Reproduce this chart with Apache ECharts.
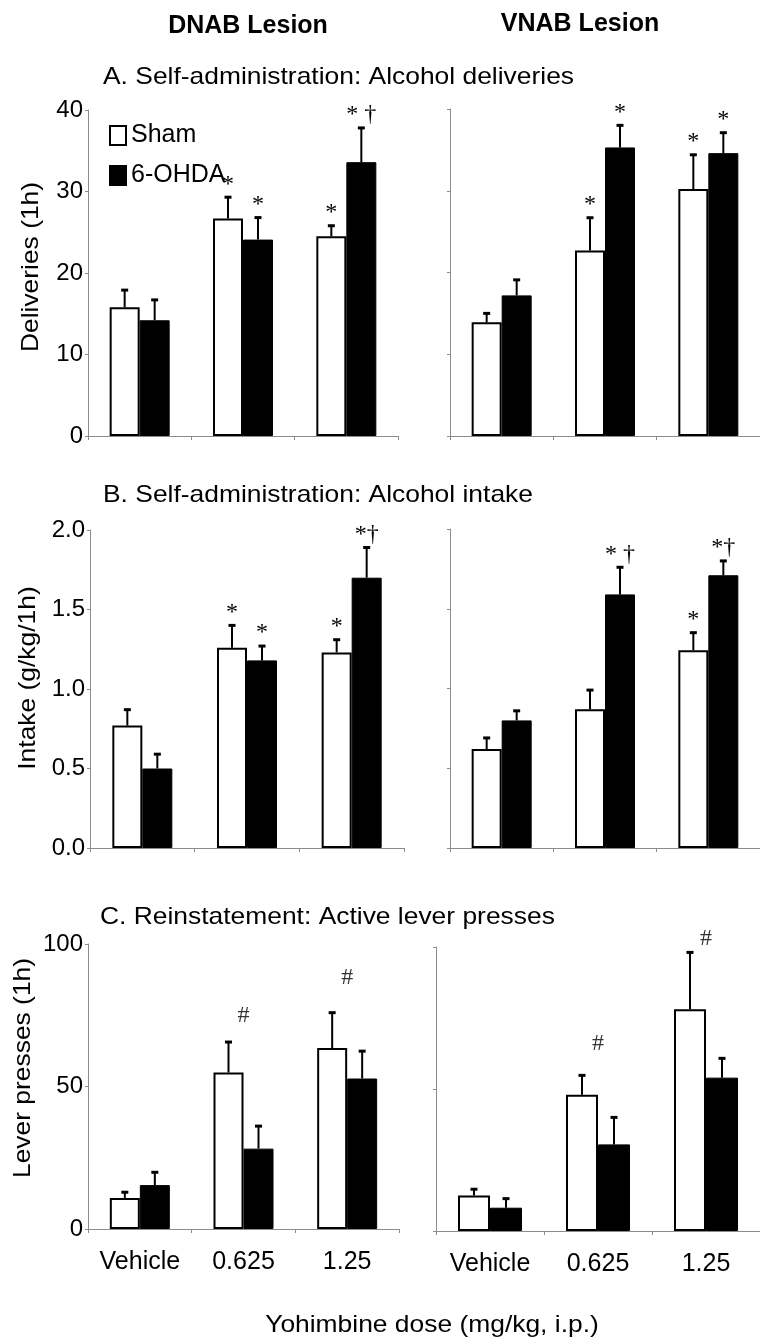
<!DOCTYPE html>
<html>
<head>
<meta charset="utf-8">
<script src="https://cdn.jsdelivr.net/npm/echarts@6/dist/echarts.min.js"></script>
<style>
  html, body { margin: 0; padding: 0; background: #fff; }
  #chart { width: 760px; height: 1338px; }
</style>
</head>
<body>
<div id="chart"></div>
<script>
// dose groups
const doses = ['Vehicle', '0.625', '1.25']

// A. alcohol deliveries (1h), mean and SEM
const delivDnabSham = [15.8, 26.7, 24.5]
const delivDnabShamSem = [2.1, 2.6, 1.3]
const delivDnabOhda = [14.2, 24.1, 33.6]
const delivDnabOhdaSem = [2.5, 2.7, 4.2]
const delivVnabSham = [13.9, 22.7, 30.2]
const delivVnabShamSem = [1.1, 4.0, 4.2]
const delivVnabOhda = [17.2, 35.3, 34.6]
const delivVnabOhdaSem = [1.9, 2.7, 2.5]

// B. alcohol intake (g/kg/1h)
const intakeDnabSham = [0.77, 1.26, 1.23]
const intakeDnabShamSem = [0.10, 0.14, 0.08]
const intakeDnabOhda = [0.50, 1.18, 1.70]
const intakeDnabOhdaSem = [0.09, 0.09, 0.19]
const intakeVnabSham = [0.62, 0.87, 1.24]
const intakeVnabShamSem = [0.07, 0.12, 0.11]
const intakeVnabOhda = [0.80, 1.59, 1.71]
const intakeVnabOhdaSem = [0.06, 0.17, 0.09]

// C. active lever presses (1h)
const leverDnabSham = [10.9, 54.9, 63.5]
const leverDnabShamSem = [2.0, 10.7, 12.4]
const leverDnabOhda = [15.4, 28.2, 52.8]
const leverDnabOhdaSem = [4.5, 7.9, 9.6]
const leverVnabSham = [12.5, 48.0, 78.1]
const leverVnabShamSem = [2.2, 6.8, 20.0]
const leverVnabOhda = [8.2, 30.5, 54.0]
const leverVnabOhdaSem = [3.2, 9.5, 6.8]

// significance marks above the error bars
const delivDnabShamMarks = ['', '*', '*']
const delivDnabOhdaMarks = ['', '*', '* \u2020']
const delivVnabShamMarks = ['', '*', '*']
const delivVnabOhdaMarks = ['', '*', '*']
const intakeDnabShamMarks = ['', '*', '*']
const intakeDnabOhdaMarks = ['', '*', '*\u2020']
const intakeVnabShamMarks = ['', '', '*']
const intakeVnabOhdaMarks = ['', '* \u2020', '*\u2020']
// "#" levels in panel C (value units)
const hashDnab = [null, 75, 88]
const hashVnab = [null, 66, 103]

const SANS = '"Liberation Sans", Arial, sans-serif'
const SERIF = '"Liberation Serif", "Times New Roman", serif'
const AXIS_GREY = '#8c8c8c'

const chart = echarts.init(document.getElementById('chart'))

const grids = [
  { left: 88, top: 110, width: 310, height: 326 },
  { left: 450, top: 109, width: 311, height: 327 },
  { left: 90, top: 530, width: 314, height: 318 },
  { left: 450, top: 529, width: 311, height: 319 },
  { left: 88, top: 944, width: 311, height: 285 },
  { left: 436, top: 947, width: 336, height: 284 }
]
const barW = [30, 30, 30, 30, 30, 32]

const xAxes = grids.map((g, i) => ({
  type: 'category',
  gridIndex: i,
  data: doses,
  axisLine: { lineStyle: { color: AXIS_GREY, width: 1 } },
  axisTick: { show: true, length: 4, lineStyle: { color: AXIS_GREY } },
  axisLabel: {
    show: i >= 4,
    interval: 0,
    hideOverlap: false,
    color: '#000',
    fontFamily: SANS,
    fontSize: 25,
    margin: 21
  }
}))

const yRange = [
  { max: 40, interval: 10 },
  { max: 2, interval: 0.5 },
  { max: 100, interval: 50 }
]
const yAxes = grids.map((g, i) => {
  const r = yRange[Math.floor(i / 2)]
  return {
    type: 'value',
    gridIndex: i,
    min: 0,
    max: r.max,
    interval: r.interval,
    splitLine: { show: false },
    axisLine: { show: true, lineStyle: { color: AXIS_GREY, width: 1 } },
    axisTick: { show: true, length: 3, lineStyle: { color: AXIS_GREY } },
    axisLabel: {
      show: i % 2 === 0,
      color: '#000',
      fontFamily: SANS,
      fontSize: 24,
      margin: 5,
      formatter: r.max === 2 ? (v) => v.toFixed(1) : (v) => String(v)
    }
  }
})

function barSeries(idx, name, values) {
  const sham = name === 'Sham'
  return {
    type: 'bar',
    name: name,
    xAxisIndex: idx,
    yAxisIndex: idx,
    data: values,
    barWidth: barW[idx],
    barGap: '0%',
    silent: true,
    itemStyle: sham
      ? { color: '#fff', borderColor: '#000', borderWidth: 2 }
      : { color: '#000', borderColor: '#000', borderWidth: 1 }
  }
}

// error bar (upward only) + optional significance mark
function errSeries(idx, means, sems, marks, side) {
  return {
    type: 'custom',
    xAxisIndex: idx,
    yAxisIndex: idx,
    z: 5,
    silent: true,
    clip: false,
    data: means.map((m, i) => [i, m, sems[i]]),
    encode: { x: 0, y: 1 },
    renderItem: (params, api) => {
      const i = api.value(0)
      const m = api.value(1)
      const e = api.value(2)
      const base = api.coord([i, m])
      const top = api.coord([i, m + e])
      const x = base[0] + side * barW[idx] / 2
      const children = [
        { type: 'line', shape: { x1: x, y1: base[1], x2: x, y2: top[1] }, style: { stroke: '#000', lineWidth: 2 } },
        { type: 'rect', shape: { x: x - 3.5, y: top[1] - 1.5, width: 7, height: 3 }, style: { fill: '#000' } }
      ]
      const txt = marks ? marks[params.dataIndex] : ''
      if (txt) {
        children.push({
          type: 'text',
          x: x,
          y: top[1] - 1,
          style: { text: txt, font: '24px ' + SERIF, fill: '#000', align: 'center', verticalAlign: 'bottom' }
        })
      }
      return { type: 'group', children: children }
    }
  }
}

function hashSeries(idx, levels) {
  const pts = []
  levels.forEach((v, i) => { if (v != null) pts.push([i, v]) })
  return {
    type: 'scatter',
    xAxisIndex: idx,
    yAxisIndex: idx,
    symbolSize: 1,
    clip: false,
    silent: true,
    itemStyle: { color: 'rgba(0,0,0,0)' },
    data: pts,
    label: {
      show: true,
      position: 'inside',
      formatter: '#',
      color: '#000',
      fontFamily: SERIF,
      fontSize: 24
    }
  }
}

const series = [
  barSeries(0, 'Sham', delivDnabSham), barSeries(0, '6-OHDA', delivDnabOhda),
  errSeries(0, delivDnabSham, delivDnabShamSem, delivDnabShamMarks, -1),
  errSeries(0, delivDnabOhda, delivDnabOhdaSem, delivDnabOhdaMarks, 1),

  barSeries(1, 'Sham', delivVnabSham), barSeries(1, '6-OHDA', delivVnabOhda),
  errSeries(1, delivVnabSham, delivVnabShamSem, delivVnabShamMarks, -1),
  errSeries(1, delivVnabOhda, delivVnabOhdaSem, delivVnabOhdaMarks, 1),

  barSeries(2, 'Sham', intakeDnabSham), barSeries(2, '6-OHDA', intakeDnabOhda),
  errSeries(2, intakeDnabSham, intakeDnabShamSem, intakeDnabShamMarks, -1),
  errSeries(2, intakeDnabOhda, intakeDnabOhdaSem, intakeDnabOhdaMarks, 1),

  barSeries(3, 'Sham', intakeVnabSham), barSeries(3, '6-OHDA', intakeVnabOhda),
  errSeries(3, intakeVnabSham, intakeVnabShamSem, intakeVnabShamMarks, -1),
  errSeries(3, intakeVnabOhda, intakeVnabOhdaSem, intakeVnabOhdaMarks, 1),

  barSeries(4, 'Sham', leverDnabSham), barSeries(4, '6-OHDA', leverDnabOhda),
  errSeries(4, leverDnabSham, leverDnabShamSem, null, -1),
  errSeries(4, leverDnabOhda, leverDnabOhdaSem, null, 1),
  hashSeries(4, hashDnab),

  barSeries(5, 'Sham', leverVnabSham), barSeries(5, '6-OHDA', leverVnabOhda),
  errSeries(5, leverVnabSham, leverVnabShamSem, null, -1),
  errSeries(5, leverVnabOhda, leverVnabOhdaSem, null, 1),
  hashSeries(5, hashVnab)
]

function label(text, x, y, opts) {
  const o = opts || {}
  return {
    type: 'text',
    x: x,
    y: y,
    rotation: o.rotation || 0,
    scaleX: o.scaleX || 1,
    silent: true,
    style: {
      text: text,
      font: (o.bold ? 'bold ' : '') + (o.size || 24) + 'px ' + SANS,
      fill: '#000',
      align: o.align || 'center',
      verticalAlign: 'middle'
    }
  }
}

const option = {
  animation: false,
  backgroundColor: '#fff',
  grid: grids,
  xAxis: xAxes,
  yAxis: yAxes,
  legend: {
    data: ['Sham', '6-OHDA'],
    orient: 'vertical',
    left: 104,
    top: 118,
    itemWidth: 16,
    itemHeight: 19,
    itemGap: 15,
    icon: 'rect',
    selectedMode: false,
    textStyle: { fontFamily: SANS, fontSize: 25, color: '#000' }
  },
  graphic: [
    label('DNAB Lesion', 248, 26, { bold: true, size: 25 }),
    label('VNAB Lesion', 580, 24, { bold: true, size: 25 }),
    label('A. Self-administration: Alcohol deliveries', 103, 77, { align: 'left', scaleX: 1.1 }),
    label('B. Self-administration: Alcohol intake', 103, 495, { align: 'left', scaleX: 1.1 }),
    label('C. Reinstatement: Active lever presses', 100, 917, { align: 'left', scaleX: 1.1 }),
    label('Deliveries (1h)', 31, 267, { rotation: Math.PI / 2, scaleX: 1.1 }),
    label('Intake (g/kg/1h)', 28, 678, { rotation: Math.PI / 2, scaleX: 1.1 }),
    label('Lever presses (1h)', 23, 1068, { rotation: Math.PI / 2, scaleX: 1.1 }),
    label('Yohimbine dose (mg/kg, i.p.)', 432, 1325, { scaleX: 1.1 })
  ],
  series: series
}

chart.setOption(option)
window.addEventListener('resize', () => chart.resize())
</script>
</body>
</html>
